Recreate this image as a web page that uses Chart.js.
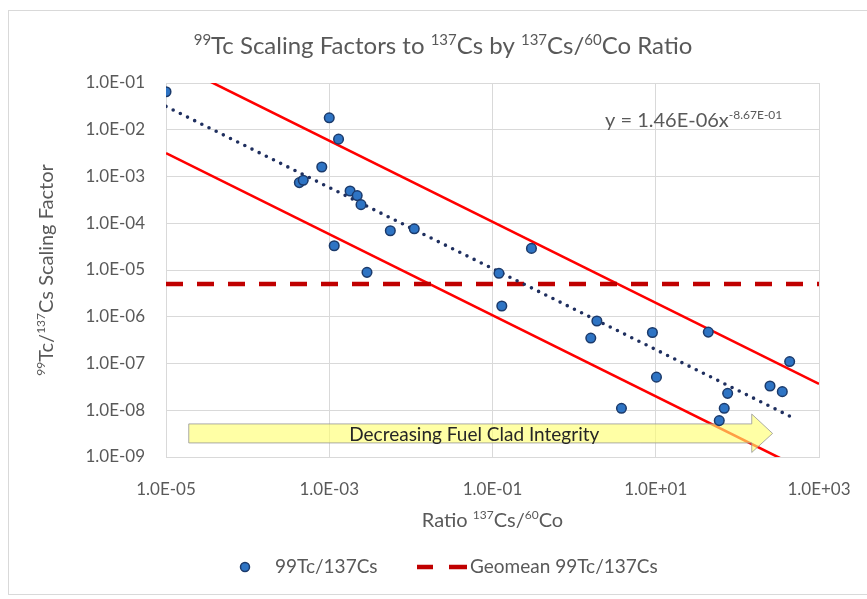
<!DOCTYPE html>
<html lang="en">
<head>
    <meta charset="UTF-8">
    <title>Tc-99 Scaling Factors</title>
    <style>
        body, html {
            margin: 0;
            padding: 0;
            background: #ffffff;
            overflow: hidden;
        }
    </style>
</head>
<body>

<canvas id="scalingChart" width="867" height="599"></canvas>

<script src="https://cdn.jsdelivr.net/npm/chart.js@4"></script>
<script>
    // 137Cs/60Co ratio and the matching 99Tc/137Cs scaling factor per sample
    const ratioCsCo = [
        1.0e-5, 1.0e-3, 1.3e-3, 8.1e-4, 4.3e-4, 4.8e-4, 1.8e-3, 2.2e-3, 2.45e-3, 5.6e-3,
        1.1e-2, 1.15e-3, 2.9e-3, 0.30, 0.12, 0.13, 1.6, 1.9, 9.1, 10.2,
        3.8, 44, 76, 69, 60, 251, 355, 437
    ];
    const scalingFactor = [
        6.5e-2, 1.8e-2, 6.3e-3, 1.6e-3, 7.4e-4, 8.3e-4, 4.9e-4, 3.9e-4, 2.5e-4, 6.9e-5,
        7.6e-5, 3.3e-5, 8.9e-6, 2.9e-5, 8.5e-6, 1.7e-6, 3.5e-7, 8.1e-7, 4.6e-7, 5.1e-8,
        1.1e-8, 4.7e-7, 2.3e-8, 1.1e-8, 6.0e-9, 3.3e-8, 2.5e-8, 1.1e-7
    ];

    // power-law fit y = a * x^b, with bands one decade above and below
    const trendCoef = 1.46e-6;
    const trendExp = -0.867;
    const bandFactor = 10;
    const geomean = 5.0e-6;

    const xTicks = [1e-5, 1e-3, 1e-1, 1e1, 1e3];
    const yTicks = [1e-9, 1e-8, 1e-7, 1e-6, 1e-5, 1e-4, 1e-3, 1e-2, 1e-1];

    const FONT = 'Lato, "Open Sans", "Liberation Sans", sans-serif';
    const GREY = '#595959';

    const trend = x => trendCoef * Math.pow(x, trendExp);
    const fullRange = [xTicks[0], xTicks[xTicks.length - 1]];
    const fitRange = [Math.min(...ratioCsCo), Math.max(...ratioCsCo)];

    function fmtSci(v) {
        const e = Math.round(Math.log10(v));
        return '1.0E' + (e < 0 ? '-' : '+') + String(Math.abs(e)).padStart(2, '0');
    }

    // draws text made of [text, isSuperscript] pieces
    function richText(ctx, parts, x, y, size, align) {
        const supSize = Math.round(size * 0.62);
        let width = 0;
        parts.forEach(([t, sup]) => {
            ctx.font = (sup ? supSize : size) + 'px ' + FONT;
            width += ctx.measureText(t).width;
        });
        let cx = align === 'center' ? x - width / 2 : (align === 'right' ? x - width : x);
        ctx.textAlign = 'left';
        ctx.textBaseline = 'alphabetic';
        parts.forEach(([t, sup]) => {
            ctx.font = (sup ? supSize : size) + 'px ' + FONT;
            ctx.fillText(t, cx, sup ? y - size * 0.38 : y);
            cx += ctx.measureText(t).width;
        });
        return width;
    }

    // arrow under the data, in data coordinates
    const arrowX = [1.9e-5, 150, 270];     // tail, start of head, tip
    const arrowBody = [5.1e-9, 2.0e-9];   // top, bottom of shaft
    const arrowHead = [8.3e-9, 1.25e-9];  // top, bottom of head
    const arrowLabel = 'Decreasing Fuel Clad Integrity';

    function drawArrow(chart) {
        const ctx = chart.ctx;
        const xs = chart.scales.x, ys = chart.scales.y;
        const x0 = xs.getPixelForValue(arrowX[0]);
        const x1 = xs.getPixelForValue(arrowX[1]);
        const x2 = xs.getPixelForValue(arrowX[2]);
        const bt = ys.getPixelForValue(arrowBody[0]);
        const bb = ys.getPixelForValue(arrowBody[1]);
        const ht = ys.getPixelForValue(arrowHead[0]);
        const hb = ys.getPixelForValue(arrowHead[1]);
        ctx.save();
        ctx.beginPath();
        ctx.moveTo(x0, bt);
        ctx.lineTo(x1, bt);
        ctx.lineTo(x1, ht);
        ctx.lineTo(x2, (bt + bb) / 2);
        ctx.lineTo(x1, hb);
        ctx.lineTo(x1, bb);
        ctx.lineTo(x0, bb);
        ctx.closePath();
        ctx.fillStyle = 'rgba(255, 255, 110, 0.62)';
        ctx.fill();
        ctx.strokeStyle = 'rgba(150, 150, 150, 0.8)';
        ctx.lineWidth = 1;
        ctx.stroke();
        ctx.fillStyle = '#262626';
        ctx.font = '19px ' + FONT;
        ctx.textAlign = 'center';
        ctx.textBaseline = 'middle';
        ctx.fillText(arrowLabel, (x0 + x1) / 2 + 4, (bt + bb) / 2 + 1);
        ctx.restore();
    }

    const decorations = {
        id: 'decorations',
        beforeDraw(chart) {
            const ctx = chart.ctx;
            ctx.save();
            ctx.fillStyle = '#ffffff';
            ctx.fillRect(0, 0, chart.width, chart.height);
            ctx.strokeStyle = '#D9D9D9';
            ctx.lineWidth = 1;
            ctx.strokeRect(8.5, 10.5, chart.width + 10, 584);
            ctx.restore();
        },
        afterDatasetDraw(chart, args) {
            // shaded arrow sits over the band lines but under the points
            if (args.index === 4) drawArrow(chart);
        },
        afterDraw(chart) {
            const ctx = chart.ctx;
            const area = chart.chartArea;
            ctx.save();
            ctx.fillStyle = GREY;

            richText(ctx, [['99', true], ['Tc Scaling Factors to ', false], ['137', true], ['Cs by ', false],
                ['137', true], ['Cs/', false], ['60', true], ['Co Ratio', false]], 443, 54, 24, 'center');

            richText(ctx, [['Ratio ', false], ['137', true], ['Cs/', false], ['60', true], ['Co', false]],
                (area.left + area.right) / 2, 527, 20, 'center');

            ctx.save();
            ctx.translate(53, (area.top + area.bottom) / 2);
            ctx.rotate(-Math.PI / 2);
            richText(ctx, [['99', true], ['Tc/', false], ['137', true], ['Cs Scaling Factor', false]], 0, 0, 20, 'center');
            ctx.restore();

            // fit equation
            const ex = richText(ctx, [['y = 1.46E-06x', false]], 605, 127, 20, 'left');
            richText(ctx, [['-8.67E-01', true]], 605 + ex, 127, 20, 'left');

            // legend
            const ly = 567;
            ctx.beginPath();
            ctx.arc(245, ly, 4.5, 0, Math.PI * 2);
            ctx.fillStyle = '#2E74C4';
            ctx.fill();
            ctx.lineWidth = 1.5;
            ctx.strokeStyle = '#1B3A6B';
            ctx.stroke();
            ctx.fillStyle = GREY;
            richText(ctx, [['99Tc/137Cs', false]], 275, ly + 6, 19, 'left');

            ctx.strokeStyle = '#C00000';
            ctx.lineWidth = 4.5;
            ctx.beginPath();
            ctx.moveTo(417, ly);
            ctx.lineTo(433, ly);
            ctx.moveTo(449, ly);
            ctx.lineTo(467, ly);
            ctx.stroke();
            richText(ctx, [['Geomean 99Tc/137Cs', false]], 470, ly + 6, 19, 'left');

            ctx.restore();
        }
    };

    const ctx = document.getElementById('scalingChart').getContext('2d');
    const chart = new Chart(ctx, {
        type: 'scatter',
        data: {
            datasets: [
                {
                    label: '99Tc/137Cs',
                    data: ratioCsCo.map((x, i) => ({ x: x, y: scalingFactor[i] })),
                    backgroundColor: '#2E74C4',
                    borderColor: '#1B3A6B',
                    borderWidth: 1.5,
                    pointRadius: 4.8,
                    order: 0
                },
                {
                    label: 'Power fit',
                    data: fitRange.map(x => ({ x: x, y: trend(x) })),
                    showLine: true,
                    pointRadius: 0,
                    borderColor: '#1F2F5F',
                    borderWidth: 3.6,
                    borderDash: [0, 8],
                    borderCapStyle: 'round',
                    order: 1
                },
                {
                    label: 'Geomean 99Tc/137Cs',
                    data: fullRange.map(x => ({ x: x, y: geomean })),
                    showLine: true,
                    pointRadius: 0,
                    borderColor: '#C00000',
                    borderWidth: 4.5,
                    borderDash: [17, 14],
                    borderCapStyle: 'butt',
                    order: 2
                },
                {
                    label: 'Upper band',
                    data: fullRange.map(x => ({ x: x, y: trend(x) * bandFactor })),
                    showLine: true,
                    pointRadius: 0,
                    borderColor: '#FF0000',
                    borderWidth: 2.6,
                    order: 4
                },
                {
                    label: 'Lower band',
                    data: fullRange.map(x => ({ x: x, y: trend(x) / bandFactor })),
                    showLine: true,
                    pointRadius: 0,
                    borderColor: '#FF0000',
                    borderWidth: 2.6,
                    order: 3
                }
            ]
        },
        options: {
            responsive: false,
            animation: false,
            devicePixelRatio: 1,
            layout: {
                padding: { left: 0, top: 83, right: 48, bottom: 0 }
            },
            plugins: {
                legend: { display: false },
                tooltip: { enabled: false },
                title: { display: false }
            },
            scales: {
                x: {
                    type: 'logarithmic',
                    min: xTicks[0],
                    max: xTicks[xTicks.length - 1],
                    afterBuildTicks: scale => { scale.ticks = xTicks.map(v => ({ value: v })); },
                    afterFit: scale => {
                        scale.height = 142;
                        scale.paddingLeft = 0;
                        scale.paddingRight = 0;
                    },
                    grid: { color: '#D9D9D9', lineWidth: 1, drawTicks: false },
                    border: { color: '#D9D9D9' },
                    ticks: {
                        autoSkip: false,
                        maxRotation: 0,
                        padding: 22,
                        color: GREY,
                        font: { family: FONT, size: 17 },
                        callback: v => fmtSci(v)
                    }
                },
                y: {
                    type: 'logarithmic',
                    min: yTicks[0],
                    max: yTicks[yTicks.length - 1],
                    afterBuildTicks: scale => { scale.ticks = yTicks.map(v => ({ value: v })); },
                    afterFit: scale => {
                        scale.width = 166;
                        scale.paddingTop = 0;
                        scale.paddingBottom = 0;
                    },
                    grid: { color: '#D9D9D9', lineWidth: 1, drawTicks: false },
                    border: { color: '#D9D9D9' },
                    ticks: {
                        autoSkip: false,
                        padding: 21,
                        color: GREY,
                        font: { family: FONT, size: 17 },
                        callback: v => fmtSci(v)
                    }
                }
            }
        },
        plugins: [decorations]
    });
</script>

</body>
</html>
